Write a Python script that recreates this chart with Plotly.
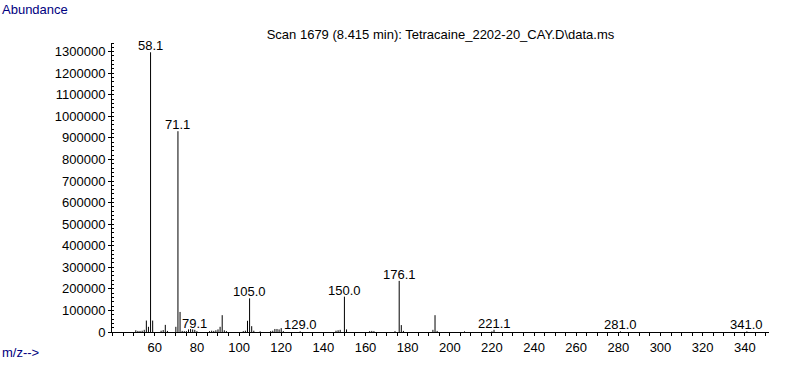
import plotly.graph_objects as go

# ---- data ----
mz = [51, 52, 53, 54, 55, 56, 57, 58, 59, 63, 64, 65, 66, 70, 71, 72, 73, 74, 75,
      76, 77, 78, 79, 80, 86, 87, 88, 89, 90, 91, 92, 93, 94, 102, 103, 104, 105,
      106, 107, 110, 115, 116, 117, 118, 119, 120, 121, 129, 146, 147, 148, 150,
      151, 162, 163, 164, 174, 176, 177, 178, 192, 193, 194, 207, 220, 221, 281, 341]
abundance = [8000, 5000, 5000, 6000, 10000, 53000, 24000, 1297000, 53000, 6000,
             9000, 33000, 5000, 24000, 931000, 93000, 5000, 4000, 4000, 12000,
             14000, 12000, 10000, 4000, 4000, 6000, 5000, 8000, 12000, 24000,
             78000, 8000, 4000, 4000, 6000, 52000, 156000, 27000, 6000, 3000,
             4000, 6000, 14000, 14000, 12000, 18000, 4000, 3000, 6000, 8000,
             10000, 164000, 12000, 4000, 5000, 4000, 4000, 237000, 32000, 5000,
             10000, 78000, 5000, 3000, 3000, 10000, 3000, 3000]

label_mz = [58, 71, 79, 105, 129, 150, 176, 221, 281, 341]
label_text = ["58.1", "71.1", "79.1", "105.0", "129.0", "150.0", "176.1",
              "221.1", "281.0", "341.0"]

y_tickvals = list(range(0, 1300001, 100000))
x_tickvals = list(range(60, 341, 20))

title_text = "Scan 1679 (8.415 min): Tetracaine_2202-20_CAY.D\\data.ms"

# ---- build stick spectrum ----
xs, ys = [], []
for m, a in zip(mz, abundance):
    xs += [m, m, None]
    ys += [0, a, None]

FONT = "Liberation Sans, Arial, sans-serif"

fig = go.Figure()
fig.add_trace(go.Scatter(x=xs, y=ys, mode="lines",
                         line=dict(color="black", width=1),
                         hoverinfo="skip", showlegend=False))

peak_lookup = dict(zip(mz, abundance))
for m, t in zip(label_mz, label_text):
    fig.add_annotation(x=m, y=peak_lookup[m], text=t, showarrow=False,
                       xanchor="center", yanchor="bottom", yshift=-3,
                       font=dict(family=FONT, size=13, color="black"))

W, H = 787, 367
L, R, T, B = 112, 18, 43, 31
pw, ph = W - L - R, H - T - B

fig.add_annotation(xref="paper", yref="paper", x=-L / pw, y=1 + (T - 9) / ph,
                   text="Abundance", showarrow=False, xanchor="left",
                   yanchor="middle",
                   font=dict(family=FONT, size=13, color="#000080"))
fig.add_annotation(xref="paper", yref="paper", x=-L / pw, y=-(357 - (H - B)) / ph,
                   text="m/z-->", showarrow=False, xanchor="left",
                   yanchor="middle",
                   font=dict(family=FONT, size=13, color="#000080"))

fig.update_layout(
    width=W, height=H,
    margin=dict(l=L, r=R, t=T, b=B),
    paper_bgcolor="white", plot_bgcolor="white",
    title=dict(text=title_text, x=0.5, xref="paper", y=1 - 34 / H,
               yref="container", xanchor="center", yanchor="middle",
               font=dict(family=FONT, size=13, color="black")),
    xaxis=dict(range=[39.7, 351.5], showgrid=False, zeroline=False,
               showline=True, linecolor="black", linewidth=1,
               tickmode="array", tickvals=x_tickvals,
               ticks="outside", ticklen=3, tickcolor="black",
               minor=dict(dtick=5, tick0=0, ticks="outside", ticklen=3,
                          tickcolor="black", showgrid=False),
               tickfont=dict(family=FONT, size=13, color="black")),
    yaxis=dict(range=[0, 1340000], showgrid=False, zeroline=False,
               showline=True, linecolor="black", linewidth=1,
               tickmode="array", tickvals=y_tickvals, tickformat="d",
               ticks="outside", ticklen=3, tickcolor="black",
               minor=dict(dtick=20000, tick0=0, ticks="inside", ticklen=2,
                          tickcolor="black", showgrid=False),
               tickfont=dict(family=FONT, size=13, color="black")),
)

fig.write_html("out.html")
